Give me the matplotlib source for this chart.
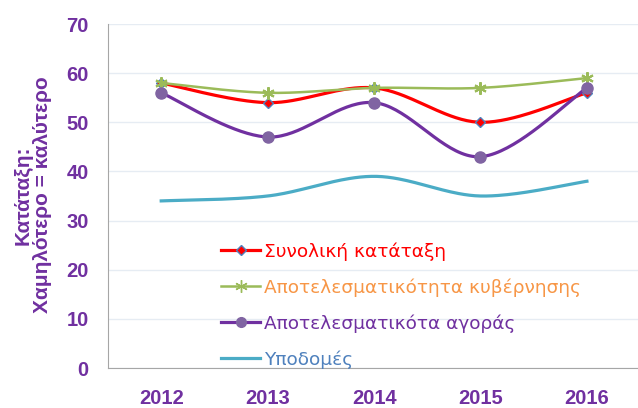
import numpy as np
import matplotlib.pyplot as plt

years = ["2012", "2013", "2014", "2015", "2016"]
synoliki = [58, 54, 57, 50, 56]
kyvernisi = [58, 56, 57, 57, 59]
agora = [56, 47, 54, 43, 57]
ypodomes = [34, 35, 39, 35, 38]

labels = ["Συνολική κατάταξη", "Αποτελεσματικότητα κυβέρνησης",
          "Αποτελεσματικότα αγοράς", "Υποδομές"]
text_colors = ["#FF0000", "#F79646", "#7030A0", "#4F81BD"]
purple = "#7030A0"


def smooth(y, n=40):
    # Bezier curve through points, like excel's smoothed line
    y = np.asarray(y, float)
    x = np.arange(len(y), dtype=float)
    pts = np.column_stack([x, y])
    out = []
    for i in range(len(pts) - 1):
        p0 = pts[max(i - 1, 0)]
        p1 = pts[i]
        p2 = pts[i + 1]
        p3 = pts[min(i + 2, len(pts) - 1)]
        c1 = p1 + (p2 - p0) / 6
        c2 = p2 - (p3 - p1) / 6
        t = np.linspace(0, 1, n)[:, None]
        seg = ((1 - t) ** 3) * p1 + 3 * ((1 - t) ** 2) * t * c1 + 3 * (1 - t) * t ** 2 * c2 + t ** 3 * p2
        out.append(seg if i == 0 else seg[1:])
    out = np.vstack(out)
    return out[:, 0], out[:, 1]


fig = plt.figure(figsize=(6.38, 4.08), dpi=100)
ax = fig.add_axes([108 / 638, 40 / 408, 530 / 638, 344 / 408])
xs = np.arange(len(years))

# red
sx, sy = smooth(synoliki)
ax.plot(sx, sy, color="#FF0000", lw=2.3, zorder=3)
ax.plot(xs, synoliki, ls="none", marker="D", ms=5, mfc="#FF0000", mec="#4F81BD", mew=1, zorder=4)
# green
sx, sy = smooth(kyvernisi)
ax.plot(sx, sy, color="#9BBB59", lw=1.8, zorder=5)
ax.plot(xs, kyvernisi, ls="none", marker=(6, 2, 0), ms=9, mec="#9BBB59", mew=1.5, zorder=6)
# purple
sx, sy = smooth(agora)
ax.plot(sx, sy, color=purple, lw=2.3, zorder=7)
ax.plot(xs, agora, ls="none", marker="o", ms=8, mfc="#8064A2", mec="#8064A2", zorder=8)
# cyan
sx, sy = smooth(ypodomes)
ax.plot(sx, sy, color="#4BACC6", lw=2.3, zorder=3)

h1 = plt.Line2D([], [], color="#FF0000", lw=2.3, marker="D", ms=5, mfc="#FF0000", mec="#4F81BD")
h2 = plt.Line2D([], [], color="#9BBB59", lw=1.8, marker=(6, 2, 0), ms=9, mec="#9BBB59")
h3 = plt.Line2D([], [], color=purple, lw=2.3, marker="o", ms=7, mfc="#8064A2", mec="#8064A2")
h4 = plt.Line2D([], [], color="#4BACC6", lw=2.3)
fig.legend([h1, h2, h3, h4], labels, loc="upper left",
           bbox_to_anchor=(212 / 638, 1 - 233 / 408), frameon=False,
           fontsize=13.3, handlelength=2.1, handletextpad=0.2,
           labelspacing=0.95, borderpad=0, labelcolor=text_colors)

ax.set_xlim(-0.5, 4.48)
ax.set_ylim(0, 70)
ax.set_yticks(range(0, 71, 10))
ax.set_xticks(xs)
ax.set_xticklabels(years)
ax.tick_params(length=0, labelsize=14.5, labelcolor=purple, pad=15)
ax.tick_params(axis="y", pad=14)
for lab in ax.get_xticklabels() + ax.get_yticklabels():
    lab.set_fontweight("bold")
    lab.set_family("Liberation Sans")
ax.grid(axis="y", color="#E6ECF3", lw=1)
ax.set_axisbelow(True)
for s in ["top", "right"]:
    ax.spines[s].set_visible(False)
ax.spines["left"].set_color("#A6A6A6")
ax.spines["bottom"].set_color("#A6A6A6")

fig.text(33 / 638, 1 - 195 / 408, "Κατάταξη:\nΧαμηλότερο = καλύτερο", rotation=90,
         ha="center", va="center", color=purple, fontsize=15,
         fontweight="bold", family="Liberation Sans", linespacing=1.0)

fig.savefig("out.png", dpi=100)
